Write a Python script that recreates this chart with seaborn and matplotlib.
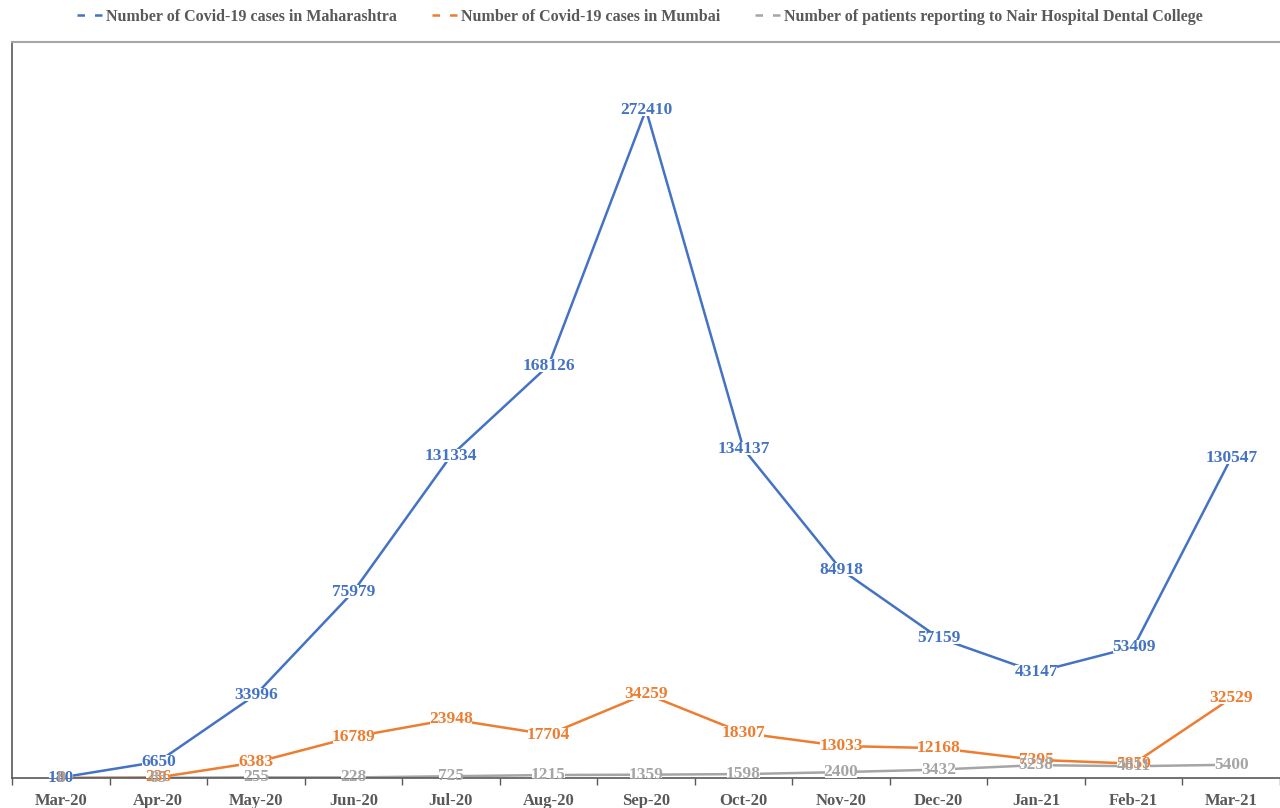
import matplotlib
matplotlib.use("Agg")
import matplotlib.pyplot as plt
from matplotlib.lines import Line2D
from matplotlib.patches import Rectangle
from matplotlib.ticker import FixedLocator, NullFormatter
import seaborn as sns
import pandas as pd

months = ["Mar-20", "Apr-20", "May-20", "Jun-20", "Jul-20", "Aug-20", "Sep-20",
          "Oct-20", "Nov-20", "Dec-20", "Jan-21", "Feb-21", "Mar-21"]
maharashtra = [180, 6650, 33996, 75979, 131334, 168126, 272410, 134137, 84918, 57159, 43147, 53409, 130547]
mumbai = [8, 236, 6383, 16789, 23948, 17704, 34259, 18307, 13033, 12168, 7395, 5859, 32529]
nair = [0, 85, 255, 228, 725, 1215, 1359, 1598, 2400, 3432, 5238, 4811, 5400]

series_names = ["Number of Covid-19 cases in Maharashtra",
                "Number of Covid-19 cases in Mumbai",
                "Number of patients reporting to Nair Hospital Dental College"]
colors = ["#4472C4", "#ED7D31", "#A5A5A5"]

sns.set_style("white")
plt.rcParams['font.family'] = ['Liberation Serif', 'DejaVu Serif']

rows = []
for name, vals in zip(series_names, [maharashtra, mumbai, nair]):
    for i, v in enumerate(vals):
        rows.append({"idx": i, "month": months[i], "value": v, "series": name})
df = pd.DataFrame(rows)

fig = plt.figure(figsize=(12.8, 8.08), dpi=100)
ax = fig.add_axes([12/1280, 1 - 778/808, 1 - 12/1280, (778 - 42)/808])

sns.lineplot(data=df, x="idx", y="value", hue="series", hue_order=series_names,
             palette=colors, linewidth=1.8, ax=ax, legend=False, sort=False)

text_color = "#595959"
all_vals = [maharashtra, mumbai, nair]
labels = []
for vals, c in zip(all_vals, colors):
    for i, v in enumerate(vals):
        labels.append(ax.text(i, v, str(v), ha="center", va="center", color=c,
                              fontsize=12.5, fontweight="bold", zorder=4))

ax.set_xlim(-0.5, len(months) - 0.5)
ax.set_ylim(0, 300000)
ax.set_xlabel("")
ax.set_ylabel("")
ax.set_yticks([])
ax.set_xticks(range(len(months)))
ax.set_xticklabels(months, fontsize=12, fontweight="bold", color=text_color)
ax.tick_params(axis="x", which="major", length=0, pad=11)
ax.xaxis.set_minor_locator(FixedLocator([i - 0.5 for i in range(len(months) + 1)]))
ax.xaxis.set_minor_formatter(NullFormatter())
ax.tick_params(axis="x", which="minor", length=5, width=1, color=text_color, direction="out", bottom=True)

for s in ["left", "bottom"]:
    ax.spines[s].set_color(text_color)
    ax.spines[s].set_linewidth(1.2)
ax.spines["top"].set_color("#A6A6A6")
ax.spines["top"].set_linewidth(1.5)
ax.spines["right"].set_visible(False)

handles = [Line2D([0], [0], color=c, linewidth=1.8, linestyle=(0, (3, 4))) for c in colors]
leg = fig.legend(handles, series_names, loc="center", bbox_to_anchor=(0.5, 1 - 17/808),
                 ncol=3, frameon=False, handlelength=1.6, handletextpad=0.2,
                 columnspacing=2.2, prop={"weight": "bold", "size": 11.5})
for t in leg.get_texts():
    t.set_color(text_color)

# white patches behind the data labels so the lines do not run through them
fig.canvas.draw()
renderer = fig.canvas.get_renderer()
for t in labels:
    bb = t.get_window_extent(renderer)
    rect = Rectangle((bb.x0 + 1, bb.y0 + 2), bb.width - 2, bb.height - 3,
                     transform=None, facecolor="white", edgecolor="none", zorder=3)
    ax.add_artist(rect)

fig.savefig("out.png", dpi=100)
